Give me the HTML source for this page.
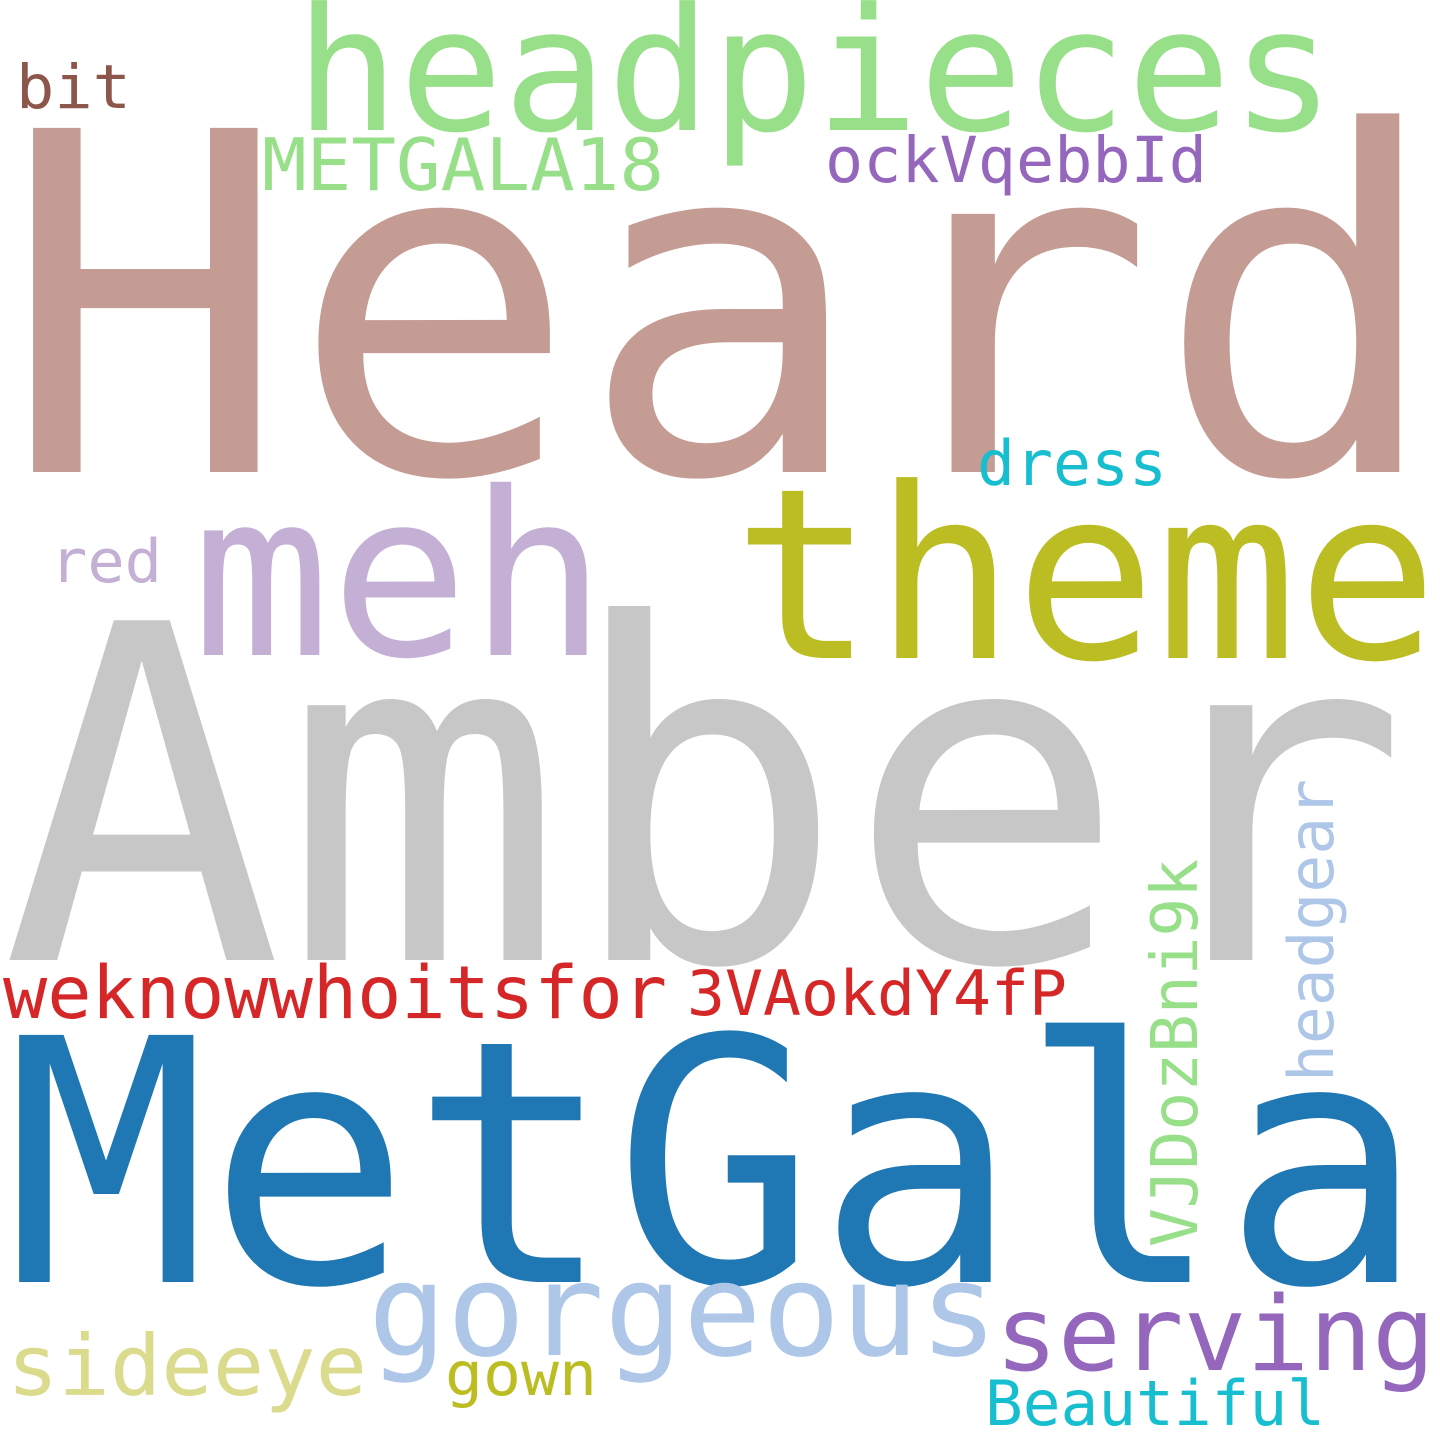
<!DOCTYPE html>
<html>
<head>
<meta charset="utf-8">
<style>
html,body{margin:0;padding:0;background:#fff;}
svg{display:block;}
text{font-family:"DejaVu Sans Mono","Liberation Mono",monospace;}
</style>
</head>
<body>
<svg width="1440" height="1440" viewBox="0 0 1440 1440">
<rect width="1440" height="1440" fill="#fff"/>
<text x="1" y="472" font-size="472" fill="#c49c94" textLength="1443" lengthAdjust="spacingAndGlyphs">Heard</text>
<text x="1" y="960" font-size="466" fill="#c7c7c7" textLength="1408" lengthAdjust="spacingAndGlyphs">Amber</text>
<text x="5" y="1282" font-size="339" fill="#1f77b4" textLength="1420" lengthAdjust="spacingAndGlyphs">MetGala</text>
<text x="295" y="130" font-size="171" fill="#98df8a" textLength="1040" lengthAdjust="spacingAndGlyphs">headpieces</text>
<text x="733" y="658" font-size="238" fill="#bcbd22" textLength="705" lengthAdjust="spacingAndGlyphs">theme</text>
<text x="192" y="655" font-size="228" fill="#c5b0d5" textLength="415" lengthAdjust="spacingAndGlyphs">meh</text>
<text x="262" y="190" font-size="72" fill="#98df8a" textLength="402" lengthAdjust="spacingAndGlyphs">METGALA18</text>
<text x="825" y="182" font-size="63" fill="#9467bd" textLength="382" lengthAdjust="spacingAndGlyphs">ockVqebbId</text>
<text x="16" y="108" font-size="61" fill="#8c564b" textLength="115" lengthAdjust="spacingAndGlyphs">bit</text>
<text x="977" y="485" font-size="62" fill="#17becf" textLength="190" lengthAdjust="spacingAndGlyphs">dress</text>
<text x="50" y="582" font-size="60" fill="#c5b0d5" textLength="112" lengthAdjust="spacingAndGlyphs">red</text>
<text x="3" y="1018" font-size="73" fill="#d62728" textLength="664" lengthAdjust="spacingAndGlyphs">weknowwhoitsfor</text>
<text x="687" y="1015" font-size="62" fill="#d62728" textLength="380" lengthAdjust="spacingAndGlyphs">3VAokdY4fP</text>
<text transform="translate(1197,1247) rotate(-90)" x="0" y="0" font-size="64" fill="#98df8a" textLength="388" lengthAdjust="spacingAndGlyphs">VJDozBni9k</text>
<text transform="translate(1333,1082) rotate(-90)" x="0" y="0" font-size="62" fill="#aec7e8" textLength="303" lengthAdjust="spacingAndGlyphs">headgear</text>
<text x="368" y="1355" font-size="129" fill="#aec7e8" textLength="630" lengthAdjust="spacingAndGlyphs">gorgeous</text>
<text x="995" y="1370" font-size="103" fill="#9467bd" textLength="440" lengthAdjust="spacingAndGlyphs">serving</text>
<text x="7" y="1395" font-size="84" fill="#dbdb8d" textLength="360" lengthAdjust="spacingAndGlyphs">sideeye</text>
<text x="445" y="1395" font-size="61" fill="#bcbd22" textLength="152" lengthAdjust="spacingAndGlyphs">gown</text>
<text x="985" y="1425" font-size="62" fill="#17becf" textLength="340" lengthAdjust="spacingAndGlyphs">Beautiful</text>
</svg>
</body>
</html>
